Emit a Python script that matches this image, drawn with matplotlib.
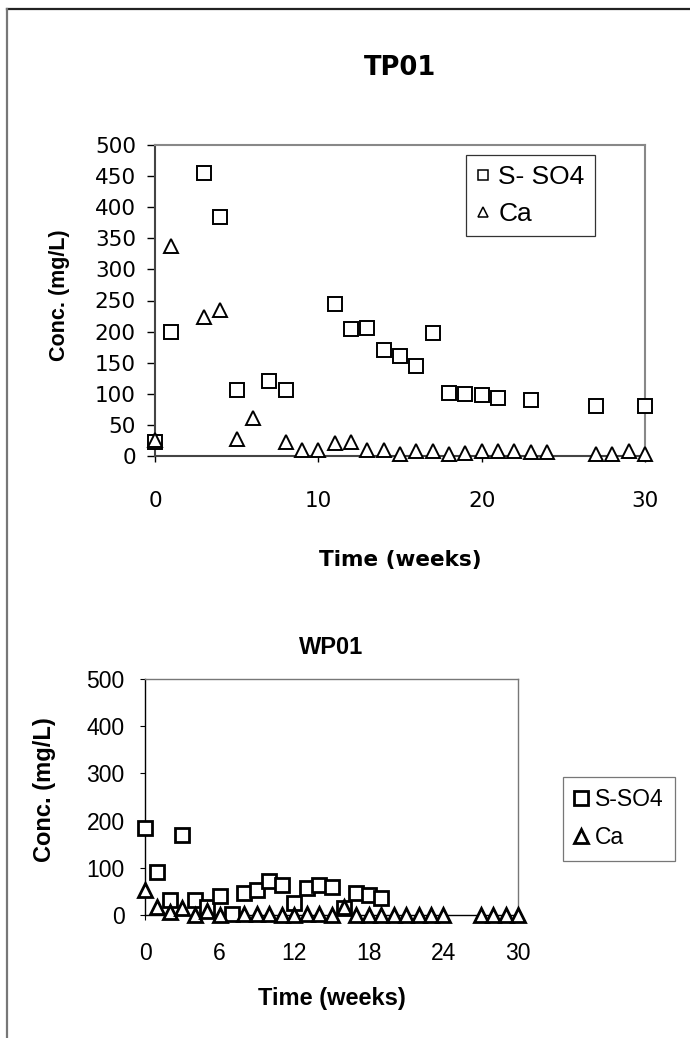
import matplotlib
matplotlib.use("Agg")
import matplotlib.pyplot as plt
from matplotlib.lines import Line2D

# ---------------- data ----------------
tp_weeks_so4 = [0, 1, 3, 4, 5, 7, 8, 11, 12, 13, 14, 15, 16, 17, 18, 19, 20, 21, 23, 27, 30]
tp_so4 = [22, 200, 455, 384, 106, 121, 106, 244, 204, 205, 170, 160, 144, 197, 101, 100, 98, 93, 90, 80, 80]
tp_weeks_ca = [0, 1, 3, 4, 5, 6, 8, 9, 10, 11, 12, 13, 14, 15, 16, 17, 18, 19, 20, 21, 22, 23, 24, 27, 28, 29, 30]
tp_ca = [25, 337, 224, 235, 27, 61, 22, 10, 10, 21, 23, 10, 10, 4, 8, 8, 4, 5, 8, 8, 8, 7, 7, 4, 4, 8, 4]

wp_weeks_so4 = [0, 1, 2, 3, 4, 5, 6, 7, 8, 9, 10, 11, 12, 13, 14, 15, 16, 17, 18, 19]
wp_so4 = [184, 91, 32, 169, 32, 17, 40, 2, 47, 52, 71, 64, 25, 57, 64, 60, 15, 46, 43, 37]
wp_weeks_ca = [0, 1, 2, 3, 4, 5, 6, 8, 9, 10, 11, 12, 13, 14, 15, 16, 17, 18, 19, 20, 21, 22, 23, 24, 27, 28, 29, 30]
wp_ca = [53, 16, 7, 14, 0, 9, 0, 2, 2, 2, 1, 0, 2, 2, 1, 17, 1, 0, 1, 0, 0, 0, 0, 0, 0, 0, 0, 0]

tp_xticks = [0, 10, 20, 30]
tp_yticks = list(range(0, 501, 50))
wp_xticks = list(range(0, 31, 6))
wp_yticks = list(range(0, 501, 100))

W, H = 690, 1038
fig = plt.figure(figsize=(W / 100, H / 100), dpi=100)

def fx(px):
    return px / W

def fy(py):
    return 1 - py / H

# outer frame lines
fig.add_artist(Line2D([fx(6.5), 1.0], [fy(8.5), fy(8.5)], color="#222222", lw=1.6))
fig.add_artist(Line2D([fx(6.5), fx(6.5)], [0, fy(8.5)], color="#777777", lw=1.6))

# ---------------- TP01 ----------------
wide = "DejaVu Sans"
arial = "Liberation Sans"
ax1 = fig.add_axes([fx(155), fy(456), fx(645) - fx(155), fy(145) - fy(456)])
ax1.plot(tp_weeks_so4, tp_so4, ls="none", marker="s", ms=9.5, mfc="white", mec="black",
         mew=1.4, clip_on=False, label="S- SO4", zorder=3)
ax1.plot(tp_weeks_ca, tp_ca, ls="none", marker="^", ms=9.5, mfc="white", mec="black",
         mew=1.4, clip_on=False, label="Ca", zorder=3)
ax1.set_xlim(0, 30)
ax1.set_ylim(0, 500)
ax1.set_xticks(tp_xticks)
ax1.set_yticks(tp_yticks)
ax1.tick_params(axis="y", direction="out", length=5.8, width=1, pad=8, labelsize=15.5)
ax1.tick_params(axis="x", direction="out", length=4.5, width=1, pad=21, labelsize=15.5)
for lab in ax1.get_xticklabels() + ax1.get_yticklabels():
    lab.set_family(wide)
for s in ["top", "right"]:
    ax1.spines[s].set_color("#888888")
    ax1.spines[s].set_linewidth(1.5)
ax1.spines["left"].set_color("#444444")
ax1.spines["left"].set_linewidth(1.5)
ax1.spines["bottom"].set_color("#444444")
ax1.spines["bottom"].set_linewidth(1.5)
leg1 = ax1.legend(loc="upper left", bbox_to_anchor=(fx(466), fy(155)), bbox_transform=fig.transFigure,
                  prop={"family": arial, "size": 19}, markerscale=0.75, handlelength=0.55,
                  handletextpad=0.3, borderpad=0.38, labelspacing=0.5, fancybox=False,
                  frameon=True, borderaxespad=0)
leg1.get_frame().set_edgecolor("black")
leg1.get_frame().set_linewidth(0.9)
for h in leg1.legend_handles:
    h.set_markeredgewidth(1.1)

fig.text(fx(400), fy(68), "TP01", ha="center", va="center", fontsize=18.5, fontweight="bold", family=wide)
fig.text(fx(400), fy(560), "Time (weeks)", ha="center", va="center", fontsize=15.5, fontweight="bold", family=wide)
fig.text(fx(59), fy(295), "Conc. (mg/L)", ha="center", va="center", rotation=90, fontsize=15.5,
         fontweight="bold", family=arial)

# ---------------- WP01 ----------------
ax2 = fig.add_axes([fx(145), fy(915), fx(518) - fx(145), fy(679) - fy(915)])
ax2.plot(wp_weeks_so4, wp_so4, ls="none", marker="s", ms=10.5, mfc="white", mec="black",
         mew=2.0, clip_on=False, label="S-SO4", zorder=3)
ax2.plot(wp_weeks_ca, wp_ca, ls="none", marker="^", ms=10.5, mfc="white", mec="black",
         mew=2.0, clip_on=False, label="Ca", zorder=3)
ax2.set_xlim(0, 30)
ax2.set_ylim(0, 500)
ax2.set_xticks(wp_xticks)
ax2.set_yticks(wp_yticks)
ax2.tick_params(axis="y", direction="out", length=3.6, width=0.8, pad=11, labelsize=16.5, colors="black")
ax2.tick_params(axis="x", direction="out", length=3.6, width=0.8, pad=16, labelsize=16.5)
for lab in ax2.get_xticklabels() + ax2.get_yticklabels():
    lab.set_family(arial)
for s in ["top", "right"]:
    ax2.spines[s].set_color("#777777")
    ax2.spines[s].set_linewidth(1.0)
ax2.spines["left"].set_color("black")
ax2.spines["bottom"].set_color("black")
ax2.spines["left"].set_linewidth(1.0)
ax2.spines["bottom"].set_linewidth(1.0)
leg2 = ax2.legend(loc="upper left", bbox_to_anchor=(fx(563), fy(777)), bbox_transform=fig.transFigure,
                  prop={"family": arial, "size": 16.5}, markerscale=0.95, handlelength=0.6,
                  handletextpad=0.3, borderpad=0.5, labelspacing=0.65, fancybox=False,
                  frameon=True, borderaxespad=0)
leg2.get_frame().set_edgecolor("#555555")
leg2.get_frame().set_linewidth(0.9)

fig.text(fx(331), fy(648), "WP01", ha="center", va="center", fontsize=17, fontweight="bold", family=arial)
fig.text(fx(332), fy(998), "Time (weeks)", ha="center", va="center", fontsize=17, fontweight="bold", family=arial)
fig.text(fx(45), fy(790), "Conc. (mg/L)", ha="center", va="center", rotation=90, fontsize=17,
         fontweight="bold", family=arial)

fig.savefig("out.png", dpi=100, facecolor="white")
